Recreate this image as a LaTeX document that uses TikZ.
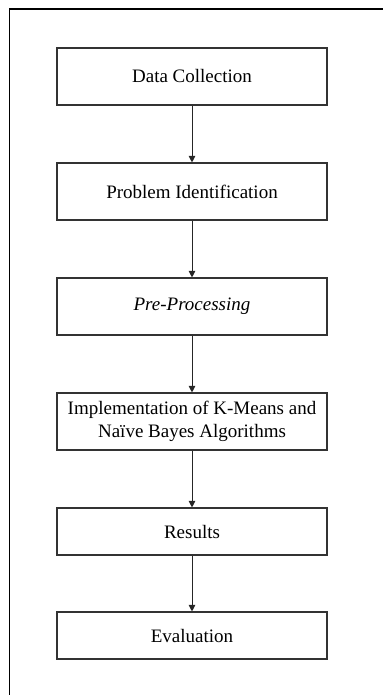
\documentclass[tikz,border=0pt]{standalone}
\usepackage{fontspec}
\setmainfont{Liberation Serif}
\usetikzlibrary{arrows.meta}
\begin{document}
\begin{tikzpicture}[x=1pt,y=-1pt,
  stepbox/.style={draw=black!80,line width=1.1pt,minimum width=270pt,align=center,inner sep=0pt,
    font=\fontsize{19}{23}\selectfont},
  flow/.style={draw=black!85,line width=0.9pt,-{Triangle[width=6.5pt,length=6.5pt]}},
  frame/.style={draw=black,line width=1.1pt}]
\useasboundingbox (0,0) rectangle (383,695);
\draw[frame] (9.5,695) -- (9.5,9) -- (383,9);
\node[stepbox,minimum height=57pt] (b1) at (192,76.5) {Data Collection};
\node[stepbox,minimum height=57pt] (b2) at (192,191.5) {Problem Identification};
\node[stepbox,minimum height=57pt] (b3) at (192,306.5) {\itshape Pre-Processing};
\node[stepbox,minimum height=57pt] (b4) at (192,421.5) {Implementation of K-Means and\\Naïve Bayes Algorithms};
\node[stepbox,minimum height=47pt] (b5) at (192,531.5) {Results};
\node[stepbox,minimum height=47pt] (b6) at (192,635.5) {Evaluation};
\draw[flow] (b1) -- (b2);
\draw[flow] (b2) -- (b3);
\draw[flow] (b3) -- (b4);
\draw[flow] (b4) -- (b5);
\draw[flow] (b5) -- (b6);
\end{tikzpicture}
\end{document}
